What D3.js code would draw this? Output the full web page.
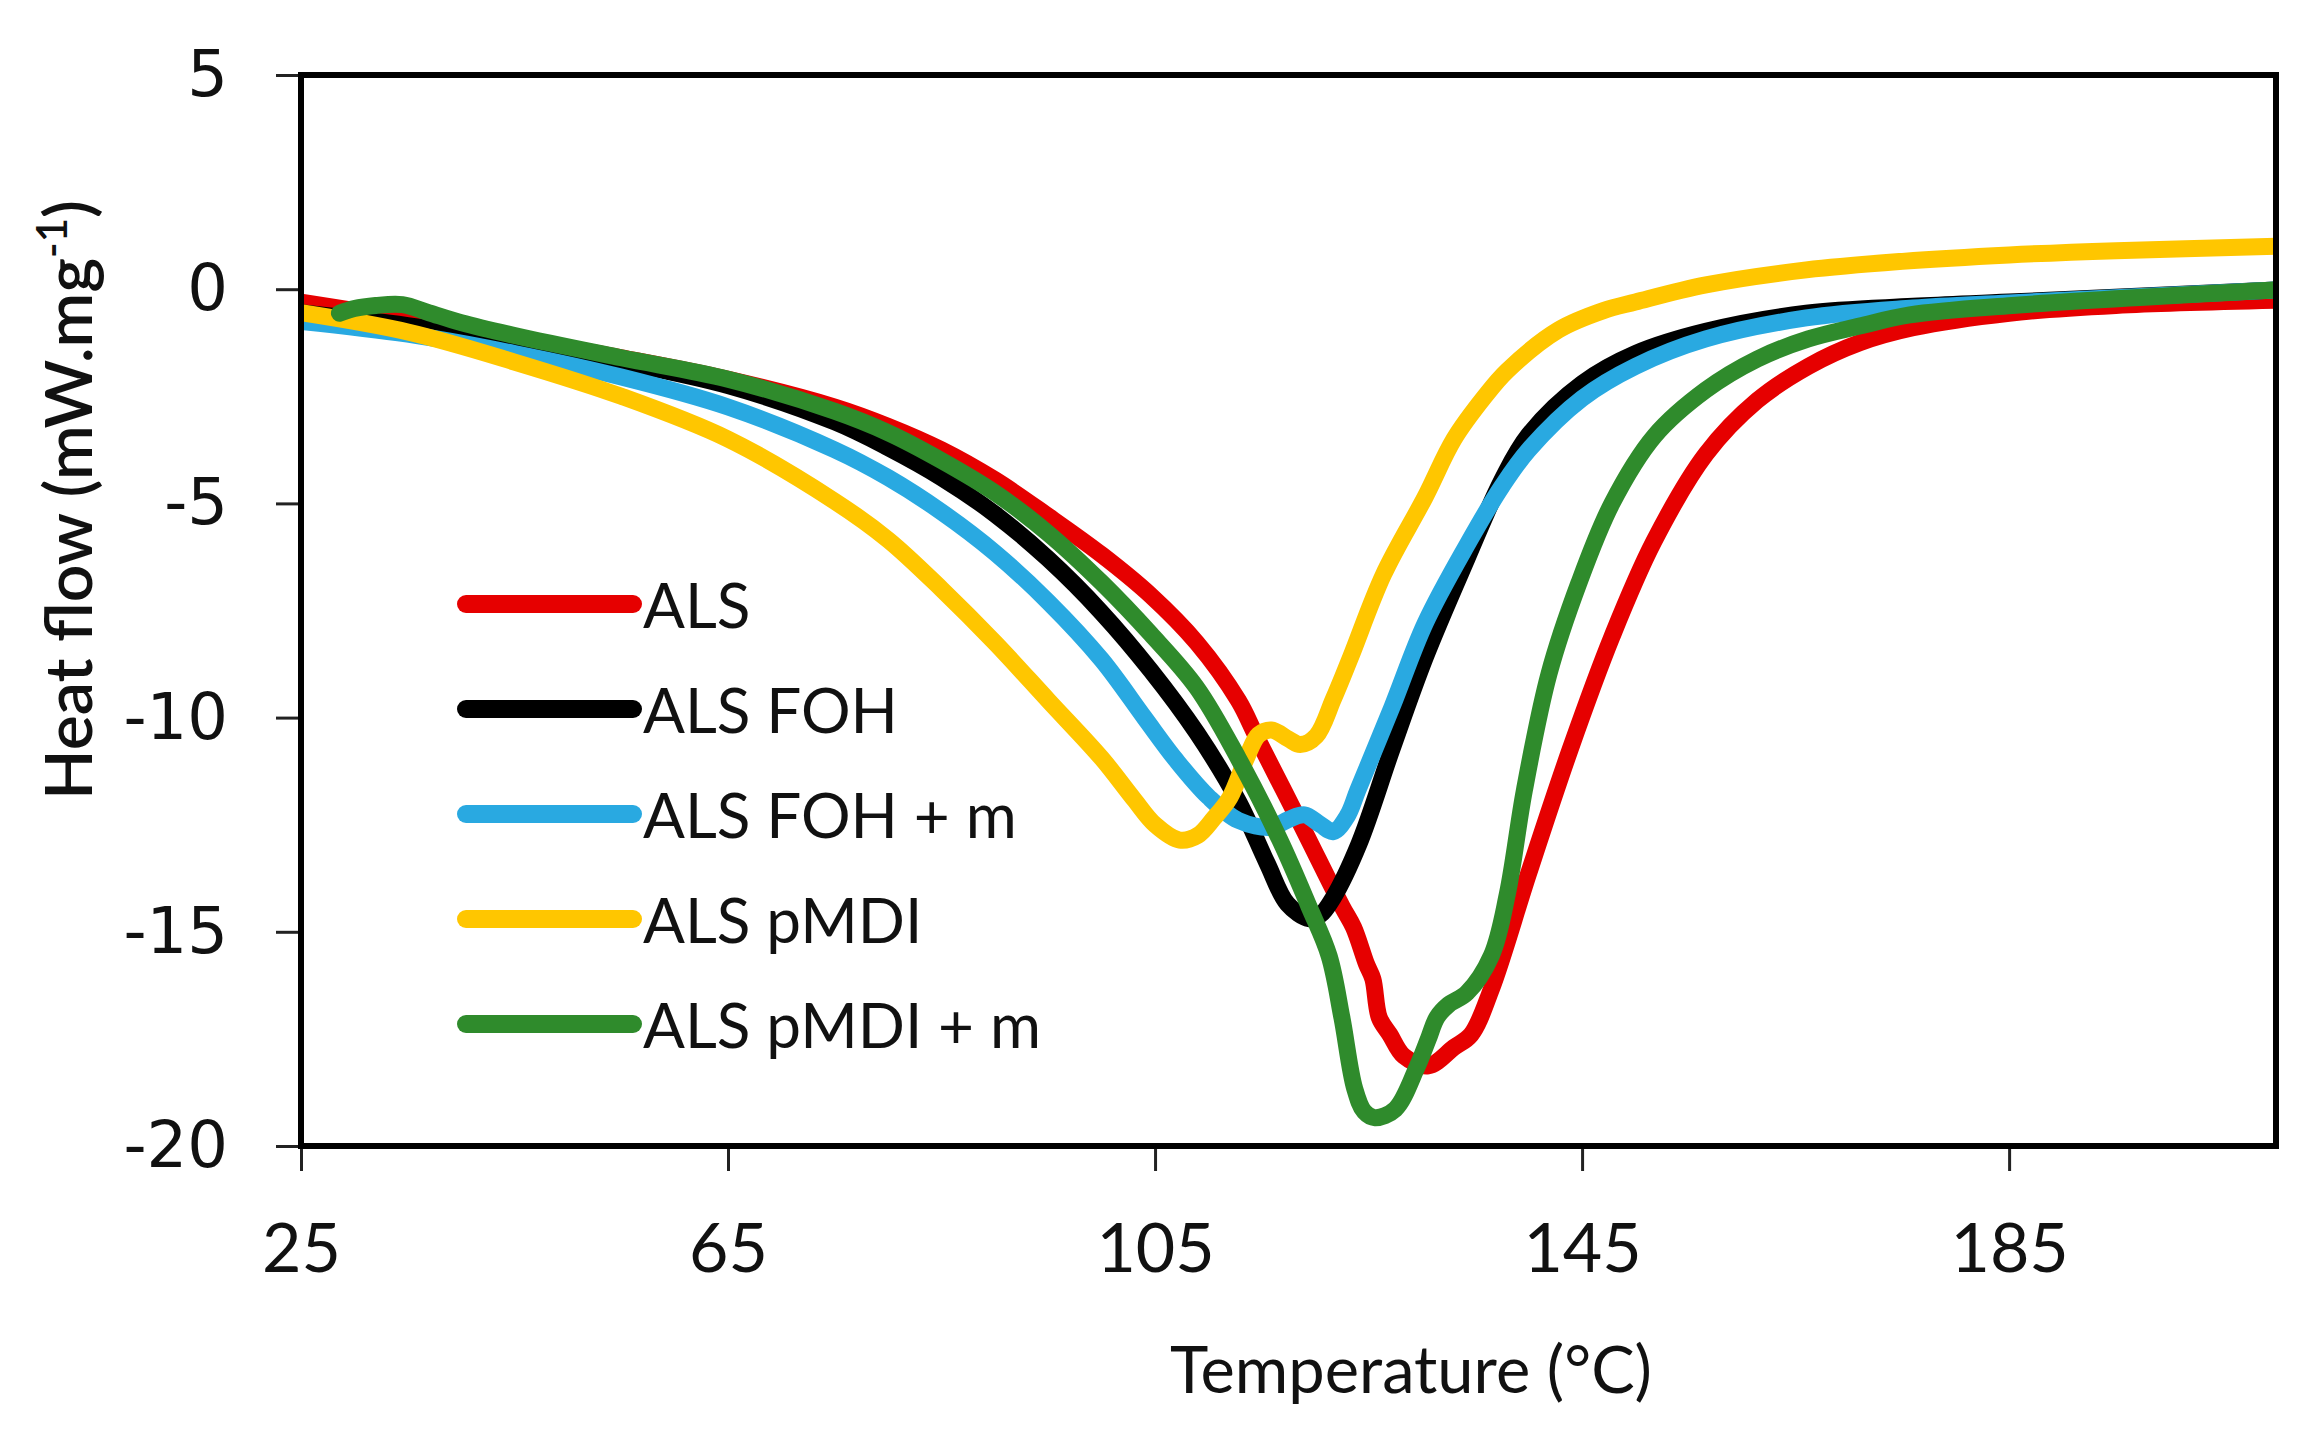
<!DOCTYPE html>
<html lang="en">
<head>
	<meta charset="UTF-8">
	<title>Heat flow</title>
	<script src="https://d3js.org/d3.v7.min.js"></script>
	<style>
		body { margin: 0; background: #fff; }
		svg { display: block; }
	</style>
</head>
<body>
	<svg width="2313" height="1441"></svg>
	<script>
		// series (temperature in °C, heat flow in mW/mg)
		const seriesNames = ["ALS", "ALS FOH", "ALS FOH + m", "ALS pMDI", "ALS pMDI + m"];
		const seriesColors = ["#e60000", "#000000", "#29a9e1", "#ffc600", "#2f8b2c"];

		const alsT = [25, 35, 45, 55, 65, 75, 80, 85, 90, 95, 100, 104.6, 108.9, 112.8, 114.5, 118.6, 122.5, 123.6, 124.8, 125.4, 126, 127, 128.3, 130.6, 133, 134.6, 136.5, 140, 143.9, 147.8, 151.7, 156.6, 161.4, 166.2, 171, 176, 185, 195, 210];
		const alsV = [-0.3, -0.7, -1.15, -1.6, -2.1, -2.75, -3.2, -3.75, -4.45, -5.3, -6.2, -7.15, -8.25, -9.6, -10.45, -12.46, -14.4, -14.9, -15.75, -16.1, -17.0, -17.4, -17.9, -18.13, -17.7, -17.4, -16.34, -13.63, -10.73, -8.11, -5.9, -3.85, -2.6, -1.8, -1.25, -0.9, -0.56, -0.38, -0.26];

		const fohT = [25, 35, 45, 55, 65, 75, 80, 85, 90, 95, 100, 104.6, 108.9, 112.8, 115.5, 117.4, 119.4, 120.5, 121.7, 124.1, 127.2, 130.3, 134.2, 137.5, 140, 145, 150, 156.6, 166, 176, 185, 210];
		const fohV = [-0.55, -0.85, -1.25, -1.7, -2.25, -3.1, -3.7, -4.4, -5.25, -6.3, -7.55, -8.9, -10.35, -11.95, -13.4, -14.35, -14.69, -14.6, -14.2, -12.95, -10.73, -8.6, -6.3, -4.45, -3.4, -2.2, -1.5, -0.98, -0.56, -0.4, -0.3, -0.02];

		const fohmT = [25, 35, 45, 55, 65, 75, 80, 85, 90, 95, 100, 104, 107, 110, 112.8, 115.9, 117.5, 119, 120.5, 121.7, 123, 124, 127.2, 130.3, 134.2, 137.5, 140, 145, 150, 156.6, 166, 176, 185, 210];
		const fohmV = [-0.75, -1.05, -1.5, -2.05, -2.75, -3.75, -4.4, -5.2, -6.15, -7.3, -8.65, -10.0, -11.0, -11.85, -12.4, -12.56, -12.38, -12.27, -12.5, -12.66, -12.3, -11.69, -9.75, -7.8, -5.98, -4.6, -3.75, -2.55, -1.8, -1.16, -0.67, -0.44, -0.32, -0.02];

		const pmdiT = [25, 35, 45, 55, 65, 75, 80, 85, 90, 95, 100, 103, 105, 107.3, 109, 110.5, 112, 113.6, 114.7, 115.9, 117.5, 118.6, 120.1, 121.7, 123.3, 126.4, 130.3, 133, 135.9, 138, 142.8, 147, 150, 156.6, 166, 175, 185, 195, 210];
		const pmdiV = [-0.55, -1.0, -1.7, -2.5, -3.5, -4.95, -5.85, -7.0, -8.25, -9.6, -10.95, -11.9, -12.5, -12.86, -12.75, -12.35, -11.87, -10.92, -10.4, -10.29, -10.5, -10.63, -10.43, -9.57, -8.6, -6.66, -4.85, -3.5, -2.5, -1.9, -0.95, -0.5, -0.3, 0.1, 0.45, 0.65, 0.8, 0.9, 1.0];

		const pmdimT = [28.6, 30, 32, 34.5, 37, 40, 45, 55, 65, 75, 80, 85, 90, 95, 100, 104.6, 108.9, 112.8, 116.7, 119.4, 121.3, 122.5, 123.7, 124.6, 125.6, 127.5, 129.5, 130.6, 131.4, 132.5, 134.2, 136.5, 138, 139.6, 141.9, 144.7, 147.8, 151.8, 156.6, 161.4, 166.2, 171, 175.7, 185.3, 210];
		const pmdimV = [-0.56, -0.45, -0.38, -0.36, -0.55, -0.78, -1.08, -1.6, -2.1, -2.85, -3.35, -4.0, -4.75, -5.7, -6.85, -8.05, -9.3, -10.95, -12.86, -14.4, -15.56, -17.0, -18.66, -19.2, -19.34, -19.14, -18.18, -17.5, -17.0, -16.7, -16.43, -15.56, -14.12, -11.69, -8.98, -6.86, -5.0, -3.42, -2.35, -1.63, -1.16, -0.86, -0.6, -0.38, -0.02];

		const xTicks = [25, 65, 105, 145, 185];
		const yTicks = [5, 0, -5, -10, -15, -20];

		const seriesT = [alsT, fohT, fohmT, pmdiT, pmdimT];
		const seriesV = [alsV, fohV, fohmV, pmdiV, pmdimV];

		const plotLeft = 301, plotRight = 2276, plotTop = 75, plotBottom = 1146;

		const svg = d3.select("svg");

		const x = d3.scaleLinear().domain([25, 210]).range([plotLeft, plotRight]);
		const y = d3.scaleLinear().domain([-20, 5]).range([plotBottom, plotTop]);

		svg.append("defs").append("clipPath")
			.attr("id", "plot")
			.append("rect")
			.attr("x", plotLeft).attr("y", plotTop)
			.attr("width", plotRight - plotLeft).attr("height", plotBottom - plotTop);

		// lines
		const line = d3.line()
			.x(d => x(d[0]))
			.y(d => y(d[1]))
			.curve(d3.curveCatmullRom.alpha(0.5));

		const lines = svg.append("g").attr("clip-path", "url(#plot)");
		seriesNames.forEach((name, i) => {
			const pts = seriesT[i].map((t, j) => [t, seriesV[i][j]]);
			lines.append("path")
				.datum(pts)
				.attr("fill", "none")
				.attr("stroke", seriesColors[i])
				.attr("stroke-width", 17)
				.attr("stroke-linejoin", "round")
				.attr("stroke-linecap", "round")
				.attr("d", line);
		});

		// axes
		const yAxis = svg.append("g")
			.attr("transform", "translate(" + plotLeft + ",0)")
			.call(d3.axisLeft(y).tickValues(yTicks).tickFormat(d => String(d))
				.tickSize(25).tickSizeOuter(0).tickPadding(48));
		yAxis.select(".domain").remove();
		yAxis.selectAll("line").attr("stroke", "#222").attr("stroke-width", 3);
		yAxis.selectAll("text")
			.style("font-family", "'DejaVu Sans', sans-serif")
			.style("font-size", "64px")
			.attr("fill", "#111");

		const xAxis = svg.append("g")
			.attr("transform", "translate(0," + plotBottom + ")")
			.call(d3.axisBottom(x).tickValues(xTicks).tickSize(25).tickSizeOuter(0).tickPadding(53));
		xAxis.select(".domain").remove();
		xAxis.selectAll("line").attr("stroke", "#222").attr("stroke-width", 3);
		xAxis.selectAll("text")
			.style("font-family", "Lato, sans-serif")
			.style("font-size", "68px")
			.attr("fill", "#111");

		// plot frame
		svg.append("rect")
			.attr("x", plotLeft).attr("y", plotTop)
			.attr("width", plotRight - plotLeft).attr("height", plotBottom - plotTop)
			.attr("fill", "none")
			.attr("stroke", "#000")
			.attr("stroke-width", 6);

		// axis titles
		svg.append("text")
			.attr("x", 1411)
			.attr("y", 1393)
			.attr("text-anchor", "middle")
			.style("font-family", "Lato, sans-serif")
			.style("font-size", "65px")
			.attr("fill", "#111")
			.text("Temperature (°C)");

		const yTitle = svg.append("text")
			.attr("transform", "translate(92,500) rotate(-90)")
			.attr("text-anchor", "middle")
			.style("font-family", "Lato, sans-serif")
			.style("font-size", "66px")
			.style("font-weight", "600")
			.attr("fill", "#111");
		yTitle.append("tspan").text("Heat flow (mW.mg");
		yTitle.append("tspan").attr("baseline-shift", "super").style("font-size", "42px").text("-1");
		yTitle.append("tspan").text(")");

		// legend
		const legend = svg.append("g");
		seriesNames.forEach((name, i) => {
			const ly = 604 + i * 105;
			legend.append("line")
				.attr("x1", 466).attr("x2", 633)
				.attr("y1", ly).attr("y2", ly)
				.attr("stroke", seriesColors[i])
				.attr("stroke-width", 18)
				.attr("stroke-linecap", "round");
			legend.append("text")
				.attr("x", 643)
				.attr("y", ly + 24)
				.style("font-family", "Lato, sans-serif")
				.style("font-size", "62px")
				.attr("fill", "#111")
				.text(name);
		});
	</script>
</body>
</html>
